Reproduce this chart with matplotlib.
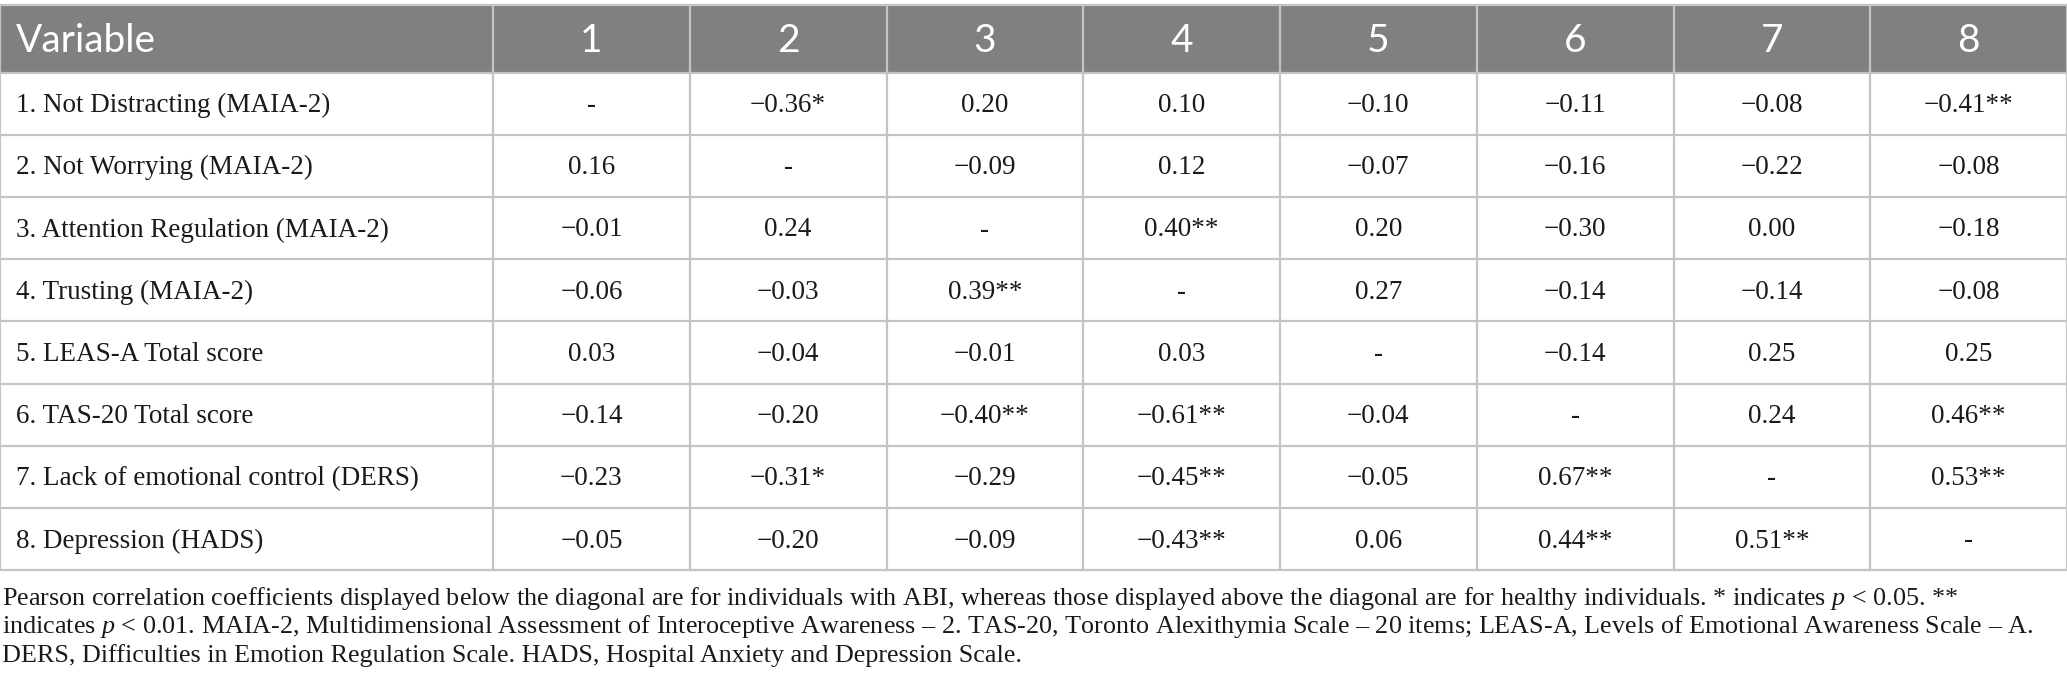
import numpy as np
import matplotlib.pyplot as plt
from matplotlib.patches import Rectangle

plt.rcParams['mathtext.fontset'] = 'custom'
plt.rcParams['mathtext.it'] = 'Liberation Serif:italic'
plt.rcParams['mathtext.rm'] = 'Liberation Serif'

# table content
header = ['Variable', '1', '2', '3', '4', '5', '6', '7', '8']
variables = [
    '1. Not Distracting (MAIA-2)',
    '2. Not Worrying (MAIA-2)',
    '3. Attention Regulation (MAIA-2)',
    '4. Trusting (MAIA-2)',
    '5. LEAS-A Total score',
    '6. TAS-20 Total score',
    '7. Lack of emotional control (DERS)',
    '8. Depression (HADS)',
]
# diagonal is nan
corr = np.array([
    [np.nan, -0.36, 0.20, 0.10, -0.10, -0.11, -0.08, -0.41],
    [0.16, np.nan, -0.09, 0.12, -0.07, -0.16, -0.22, -0.08],
    [-0.01, 0.24, np.nan, 0.40, 0.20, -0.30, 0.00, -0.18],
    [-0.06, -0.03, 0.39, np.nan, 0.27, -0.14, -0.14, -0.08],
    [0.03, -0.04, -0.01, 0.03, np.nan, -0.14, 0.25, 0.25],
    [-0.14, -0.20, -0.40, -0.61, -0.04, np.nan, 0.24, 0.46],
    [-0.23, -0.31, -0.29, -0.45, -0.05, 0.67, np.nan, 0.53],
    [-0.05, -0.20, -0.09, -0.43, 0.06, 0.44, 0.51, np.nan],
])
stars = [
    ['', '*', '', '', '', '', '', '**'],
    ['', '', '', '', '', '', '', ''],
    ['', '', '', '**', '', '', '', ''],
    ['', '', '**', '', '', '', '', ''],
    ['', '', '', '', '', '', '', ''],
    ['', '', '**', '**', '', '', '', '**'],
    ['', '*', '', '**', '', '**', '', '**'],
    ['', '', '', '**', '', '**', '**', ''],
]
footnote = [
    'Pearson correlation coefficients displayed below the diagonal are for individuals with ABI, whereas those displayed above the diagonal are for healthy individuals. * indicates $p$ < 0.05. **',
    'indicates $p$ < 0.01. MAIA-2, Multidimensional Assessment of Interoceptive Awareness \u2013 2. TAS-20, Toronto Alexithymia Scale \u2013 20 items; LEAS-A, Levels of Emotional Awareness Scale \u2013 A.',
    'DERS, Difficulties in Emotion Regulation Scale. HADS, Hospital Anxiety and Depression Scale.',
]


def fmt(v, s):
    if np.isnan(v):
        return '-'
    txt = '%.2f' % abs(v)
    if v < 0:
        txt = '\u2212' + txt
    return txt + s


W, H = 2067, 696
fig = plt.figure(figsize=(W / 100, H / 100), dpi=100)
ax = fig.add_axes([0, 0, 1, 1])
ax.set_xlim(0, W)
ax.set_ylim(H, 0)
ax.axis('off')

first_w = 493
col_w = (W - first_w) / 8
edges = [0, first_w] + [first_w + col_w * (i + 1) for i in range(8)]
top, head_h, row_h = 4.5, 68, 62.2
row_edges = [top + head_h + row_h * i for i in range(len(variables) + 1)]
grid_c = '#c4c4c4'

ax.add_patch(Rectangle((0, top), W, head_h, facecolor='#808080', edgecolor='none'))
ax.plot([0, W], [top, top], color=grid_c, lw=1.6)
for y in row_edges:
    ax.plot([0, W], [y, y], color=grid_c, lw=1.6)
for x in edges:
    ax.plot([x, x], [top, row_edges[-1]], color=grid_c, lw=1.6)

hy = top + head_h / 2 + 3
ax.text(16, hy, header[0], color='white', fontsize=28, family='Lato',
        va='center', ha='left')
for j in range(8):
    cx = (edges[j + 1] + edges[j + 2]) / 2
    ax.text(cx, hy, header[j + 1], color='white', fontsize=28, family='Lato',
            va='center', ha='center')

for i, name in enumerate(variables):
    cy = (row_edges[i] + row_edges[i + 1]) / 2 + 2
    ax.text(16, cy, name, fontsize=19.5, family='Liberation Serif',
            color='#1a1a1a', va='center', ha='left')
    for j in range(8):
        cx = (edges[j + 1] + edges[j + 2]) / 2
        ax.text(cx, cy, fmt(corr[i, j], stars[i][j]), fontsize=19.5,
                family='Liberation Serif', color='#1a1a1a',
                va='center', ha='center')

for k, line in enumerate(footnote):
    ax.text(2, 598 + 29 * k, line, fontsize=18.8, family='Liberation Serif',
            color='#1a1a1a', va='center', ha='left')

fig.savefig('out.png', dpi=100)
